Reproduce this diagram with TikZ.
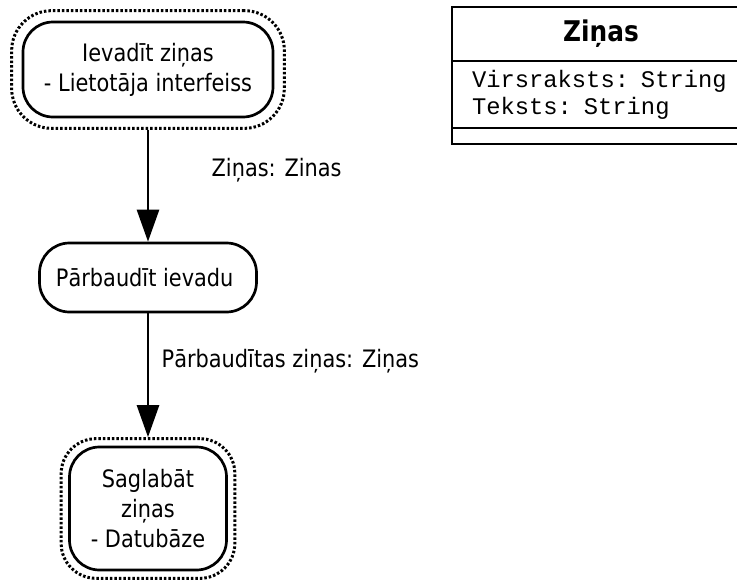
\documentclass[tikz,border=0pt]{standalone}
\usepackage{fontspec}
\setmainfont{DejaVu Sans}[FakeStretch=0.87]
\newfontfamily\kodafont{Liberation Mono}
\usetikzlibrary{arrows.meta,fit}

\begin{document}
\begin{tikzpicture}[->,>={Triangle[length=32pt,width=22pt]},auto,x=1pt,y=1pt,line width=2.7pt,
    font=\fontsize{24}{30}\selectfont,
    proc/.style={draw, rectangle, rounded corners=30pt, align=center, inner sep=0pt},
    ramis/.style={draw, rectangle, rounded corners=40pt, line width=3pt, dash pattern=on 2.5pt off 2pt, inner sep=10pt},
    klase/.style={draw, rectangle, minimum width=298pt, inner sep=0pt}]

    \clip (0,0) rectangle (737,-584);

    \node[proc, minimum width=250pt, minimum height=95pt] (ievade) at (148,-69.5)
    { Ievadīt ziņas\\- Lietotāja interfeiss };
    
    \node[ramis, fit=(ievade)] (ievadeR)
    {};
    
    \node[proc, below of=ievade, node distance=208pt, minimum width=217pt, minimum height=69pt] (parbaude)
    { Pārbaudīt ievadu };
    
    \node[proc, below of=parbaude, node distance=231pt, minimum width=157pt, minimum height=123pt] (saglabasana)
    { Saglabāt\\ziņas\\- Datubāze };
    
    \node[ramis, fit=(saglabasana), inner sep=7pt, rounded corners=35pt] (saglabasanaR)
    {};
    
    %------------------------------------------------

    \node[klase, minimum height=54pt, font=\fontsize{28.5}{30}\selectfont\bfseries] (zinas) at (601,-34)
    { Ziņas };
    
    \node[klase, below of=zinas, node distance=60.5pt, minimum height=67pt, text width=258pt, inner xsep=20pt, align=left, font=\kodafont\fontsize{23.8}{27}\selectfont] (atributi)
    { Virsraksts: String\\Teksts: String };
    
    \node[klase, below of=atributi, node distance=41.5pt, minimum height=16pt] (metodes)
    {};
    
    %------------------------------------------------
    
    \path[]
    {
        (ievadeR) edge node[right, pos=0.36, xshift=59pt] {Ziņas: Zinas} (parbaude)
        (parbaude) edge node[right, pos=0.39, xshift=9pt] {Pārbaudītas ziņas: Ziņas} (saglabasanaR)
    };
\end{tikzpicture}
\end{document}
